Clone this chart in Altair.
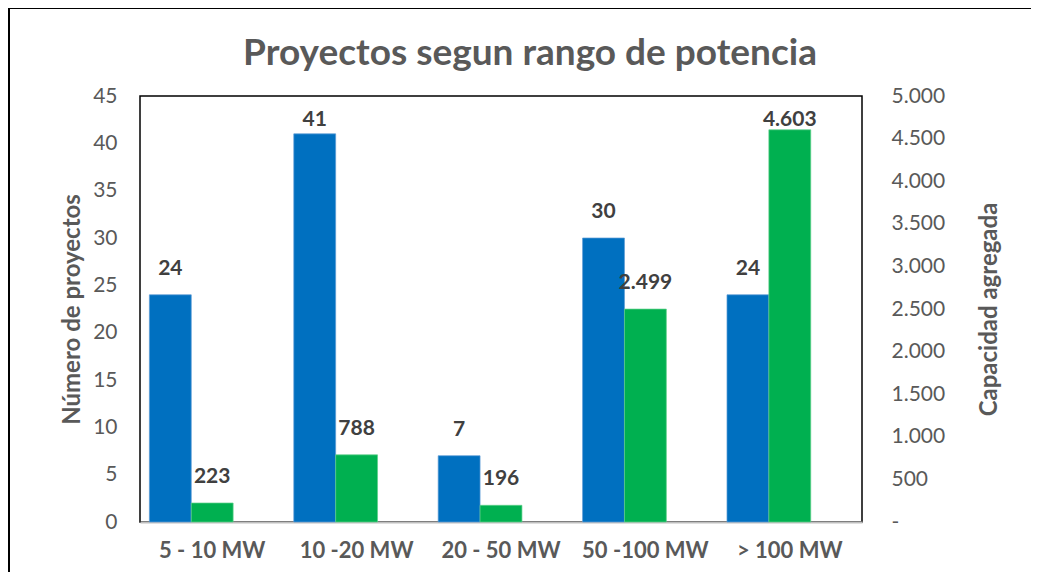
import altair as alt
import pandas as pd

categorias = ["5 - 10 MW", "10 -20 MW", "20 - 50 MW", "50 -100 MW", "> 100 MW"]
num_proyectos = [24, 41, 7, 30, 24]
capacidad = [223, 788, 196, 2499, 4603]

serie_a = "Número de proyectos"
serie_b = "Capacidad agregada"
offset_domain = [serie_a, serie_b, "_"]

df_a = pd.DataFrame({"cat": categorias, "v": num_proyectos, "serie": serie_a})
df_b = pd.DataFrame({"cat": categorias, "v": capacidad, "serie": serie_b})

TXT = "#595959"
FONT = "Lato"

x_enc = alt.X("cat:N", sort=categorias,
              scale=alt.Scale(paddingInner=0.13, paddingOuter=0.065),
              axis=alt.Axis(title=None, labelAngle=0, labelFontSize=22, labelFontWeight="bold",
                            labelColor=TXT, labelPadding=18, ticks=False,
                            domainColor="#bfbfbf", domainWidth=2, grid=False))
xo_enc = alt.XOffset("serie:N", scale=alt.Scale(domain=offset_domain, paddingInner=0, paddingOuter=0))

y_left_axis = alt.Axis(title=serie_a, values=list(range(0, 46, 5)), grid=False, ticks=False, domain=False,
                       labelFontSize=21, labelColor=TXT, labelPadding=23,
                       titleFontSize=24, titleFontWeight="bold", titleColor=TXT, titlePadding=8)
y_right_axis = alt.Axis(title=serie_b, orient="right", values=list(range(0, 5001, 500)), grid=False,
                        ticks=False, domain=False, labelAlign="left",
                        labelExpr="datum.value == 0 ? '-' : replace(format(datum.value, ','), ',', '.')",
                        labelFontSize=21, labelColor=TXT, labelPadding=29,
                        titleFontSize=24, titleFontWeight="bold", titleColor=TXT, titlePadding=57,
                        titleAngle=270)

ys_left = alt.Scale(domain=[0, 45], nice=False, zero=True)
ys_right = alt.Scale(domain=[0, 5000], nice=False, zero=True)

bars_a = alt.Chart(df_a).mark_bar(color="#0070C0", stroke="#5b9bd5", strokeWidth=0.7).encode(
    x=x_enc, xOffset=xo_enc,
    y=alt.Y("v:Q", scale=ys_left, axis=y_left_axis, title=serie_a))
text_a = alt.Chart(df_a).transform_calculate(
    ly="min(datum.v + 2.75, 42.46)"
).mark_text(fontSize=21, fontWeight="bold", color="#404040", baseline="middle").encode(
    x=x_enc, xOffset=xo_enc,
    y=alt.Y("ly:Q", scale=ys_left, axis=y_left_axis, title=serie_a),
    text=alt.Text("v:Q"))

bars_b = alt.Chart(df_b).mark_bar(color="#00B050", stroke="#5fd08a", strokeWidth=0.7).encode(
    x=x_enc, xOffset=xo_enc,
    y=alt.Y("v:Q", scale=ys_right, axis=y_right_axis, title=serie_b))
text_b = alt.Chart(df_b).transform_calculate(
    ly="min(datum.v + 306, 4718)",
    lab="replace(format(datum.v, ','), ',', '.')"
).mark_text(fontSize=21, fontWeight="bold", color="#404040", baseline="middle").encode(
    x=x_enc, xOffset=xo_enc,
    y=alt.Y("ly:Q", scale=ys_right, axis=y_right_axis, title=serie_b),
    text=alt.Text("lab:N"))

# outer chart frame (decoration, drawn from the left/top edges)
border = alt.Chart(pd.DataFrame({"k": [0]})).mark_rect(
    fillOpacity=0, stroke="#000000", strokeWidth=2
).encode(x=alt.value(-131), x2=alt.value(1300), y=alt.value(-88), y2=alt.value(900))

left = alt.layer(bars_a, text_a)
right = alt.layer(bars_b, text_b)

chart = alt.layer(left, right, border).resolve_scale(y="independent").properties(
    width=722, height=426,
    autosize=alt.AutoSizeParams(type="none"),
    padding={"left": 132, "top": 88, "right": 169, "bottom": 50},
    title=alt.Title("Proyectos segun rango de potencia", fontSize=37, font=FONT, fontWeight="bold",
                    color=TXT, anchor="middle", dx=29, dy=66, offset=0),
).configure(font=FONT).configure_view(stroke="#000000", strokeWidth=1.5)

chart.save("out.html", embed_options={"renderer": "svg", "actions": False})
